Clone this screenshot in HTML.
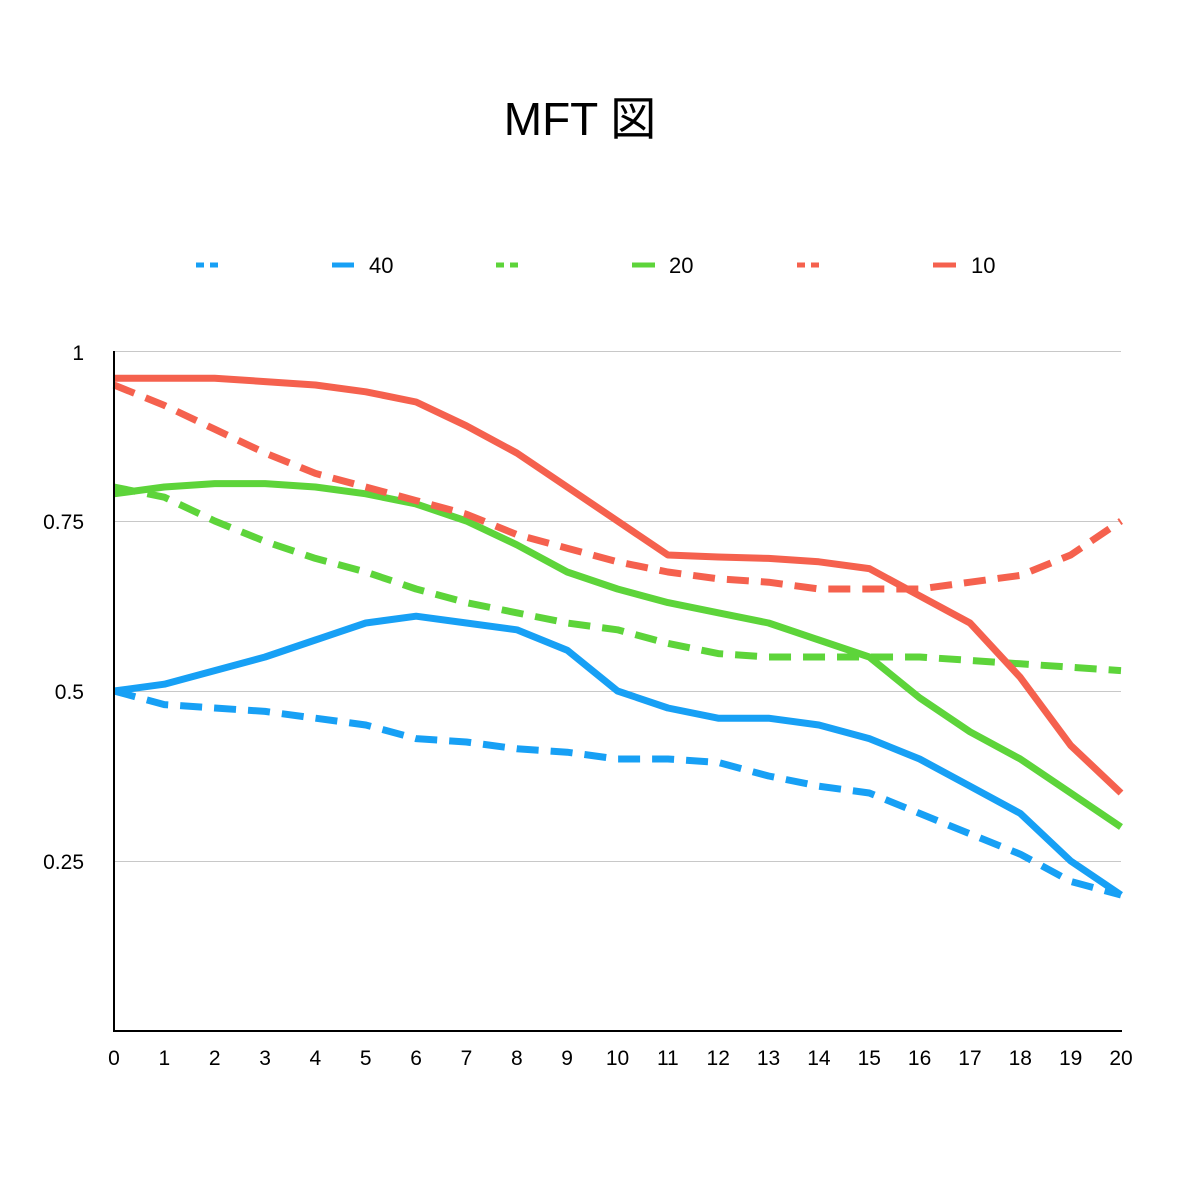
<!DOCTYPE html>
<html><head><meta charset="utf-8">
<style>
html,body{margin:0;padding:0;background:#fff;}
svg{display:block;}
text{font-family:"Liberation Sans","Noto Sans CJK JP",sans-serif;fill:#000;}
</style></head>
<body>
<svg id="c" width="1200" height="1200" viewBox="0 0 1200 1200" xmlns="http://www.w3.org/2000/svg">
<text x="580" y="135" font-size="46" text-anchor="middle">MFT 図</text>
<g stroke="#c8c8c8" stroke-width="1">
<line x1="114" y1="351.5" x2="1121" y2="351.5"/>
<line x1="114" y1="521.5" x2="1121" y2="521.5"/>
<line x1="114" y1="691.5" x2="1121" y2="691.5"/>
<line x1="114" y1="861.5" x2="1121" y2="861.5"/>
</g>
<g font-size="21" text-anchor="end">
<text x="84" y="360">1</text>
<text x="84" y="529">0.75</text>
<text x="84" y="699">0.5</text>
<text x="84" y="869">0.25</text>
</g>
<g id="xl" font-size="21" text-anchor="middle"></g>
<g id="series" fill="none" stroke-width="7" stroke-linejoin="round"></g>
<line x1="114" y1="351" x2="114" y2="1032" stroke="#000" stroke-width="2"/>
<line x1="113" y1="1031" x2="1122" y2="1031" stroke="#000" stroke-width="2"/>
<g stroke-width="5">
<line x1="196" y1="265" x2="218" y2="265" stroke="#17a0f5" stroke-dasharray="8,6"/>
<line x1="332" y1="265" x2="354" y2="265" stroke="#17a0f5"/>
<line x1="496" y1="265" x2="520" y2="265" stroke="#5dd43a" stroke-dasharray="8,6"/>
<line x1="632" y1="265" x2="655" y2="265" stroke="#5dd43a"/>
<line x1="797" y1="265" x2="820" y2="265" stroke="#f5614e" stroke-dasharray="8,6"/>
<line x1="933" y1="265" x2="956" y2="265" stroke="#f5614e"/>
</g>
<g font-size="22">
<text x="369" y="273">40</text>
<text x="669" y="273">20</text>
<text x="971" y="273">10</text>
</g>
</svg>
<script>
var NS="http://www.w3.org/2000/svg";
var xl=document.getElementById('xl');
for(var i=0;i<=20;i++){var t=document.createElementNS(NS,'text');t.setAttribute('x',114+50.35*i);t.setAttribute('y',1065);t.textContent=i;xl.appendChild(t);}
var S=[
["#17a0f5",1,[0.50,0.48,0.475,0.47,0.46,0.45,0.43,0.425,0.415,0.41,0.40,0.40,0.395,0.375,0.36,0.35,0.32,0.29,0.26,0.22,0.20]],
["#17a0f5",0,[0.50,0.51,0.53,0.55,0.575,0.60,0.61,0.60,0.59,0.56,0.50,0.475,0.46,0.46,0.45,0.43,0.40,0.36,0.32,0.25,0.20]],
["#5dd43a",1,[0.80,0.785,0.75,0.72,0.695,0.675,0.65,0.63,0.615,0.60,0.59,0.57,0.555,0.55,0.55,0.55,0.55,0.545,0.54,0.535,0.53]],
["#5dd43a",0,[0.79,0.80,0.805,0.805,0.80,0.79,0.775,0.75,0.715,0.675,0.65,0.63,0.615,0.60,0.575,0.55,0.49,0.44,0.40,0.35,0.30]],
["#f5614e",1,[0.95,0.92,0.885,0.85,0.82,0.80,0.78,0.76,0.73,0.71,0.69,0.675,0.665,0.66,0.65,0.65,0.65,0.66,0.67,0.70,0.75]],
["#f5614e",0,[0.96,0.96,0.96,0.955,0.95,0.94,0.925,0.89,0.85,0.80,0.75,0.70,0.697,0.695,0.69,0.68,0.64,0.60,0.52,0.42,0.35]]
];
var g=document.getElementById('series');
S.forEach(function(s){var p=document.createElementNS(NS,'polyline');
var pts=s[2].map(function(v,i){return (114+50.35*i).toFixed(1)+','+(1031-680*v).toFixed(1);}).join(' ');
p.setAttribute('points',pts);p.setAttribute('stroke',s[0]);
if(s[1])p.setAttribute('stroke-dasharray','22,12');
g.appendChild(p);});
</script>
</body></html>
